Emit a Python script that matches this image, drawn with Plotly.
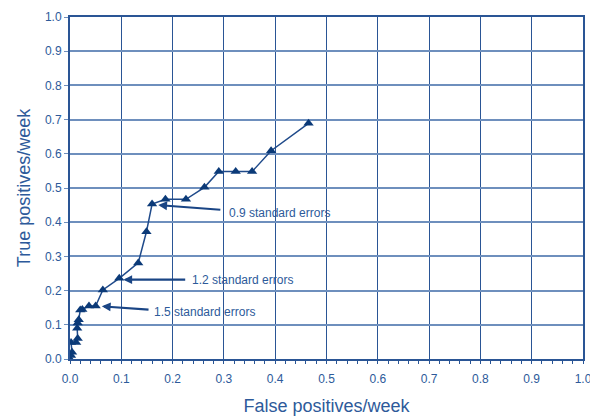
import plotly.graph_objects as go

fp = [0.0, 0.002, 0.004, 0.002, 0.012, 0.015, 0.014, 0.015, 0.017, 0.020, 0.024, 0.037, 0.050,
      0.064, 0.096, 0.133, 0.149, 0.160, 0.186, 0.226, 0.262, 0.290, 0.323, 0.355, 0.392, 0.465]
tp = [0.0, 0.010, 0.020, 0.048, 0.048, 0.060, 0.090, 0.105, 0.115, 0.143, 0.145, 0.155, 0.155,
      0.202, 0.236, 0.281, 0.372, 0.453, 0.467, 0.467, 0.502, 0.548, 0.548, 0.548, 0.609, 0.689]

labels = ["0.9 standard errors", "1.2 standard errors", "1.5 standard errors"]
tip_x = [0.172, 0.104, 0.062]
tip_y = [0.450, 0.232, 0.154]
tail_x = [0.296, 0.2275, 0.156]
tail_y = [0.436, 0.232, 0.144]
text_x = [0.307, 0.233, 0.159]
text_y = [0.427, 0.231, 0.137]

ticks = [round(i * 0.1, 1) for i in range(11)]
ticktext = [f"{t:.1f}" for t in ticks]

navy = "#0B3A78"
grid_v = "#2A5595"
grid_h = "#6E8FBD"
txt = "#2D5A9A"

fig = go.Figure()
fig.add_trace(go.Scatter(
    x=fp, y=tp, mode="lines+markers",
    line=dict(color="#1F4A8A", width=1.5),
    marker=dict(symbol="triangle-up", size=9, color=navy),
    showlegend=False,
))

for i in range(len(labels)):
    fig.add_annotation(x=tip_x[i], y=tip_y[i], ax=tail_x[i], ay=tail_y[i],
                       xref="x", yref="y", axref="x", ayref="y",
                       text="", showarrow=True, arrowhead=2, arrowsize=0.8,
                       arrowwidth=2.2, arrowcolor="#1A4585")
    fig.add_annotation(x=text_x[i], y=text_y[i], xref="x", yref="y",
                       text=labels[i], showarrow=False, xanchor="left", yanchor="middle",
                       font=dict(size=12, color=txt, family="Liberation Sans, Arial, sans-serif"))

fig.update_layout(
    width=590, height=408,
    margin=dict(l=62, r=15, t=9, b=57),
    paper_bgcolor="white", plot_bgcolor="white",
    font=dict(family="Liberation Sans, Arial, sans-serif", color=txt, size=12),
)
fig.update_xaxes(
    range=[0, 1], tickvals=ticks, ticktext=ticktext, automargin=False,
    showgrid=True, gridcolor=grid_v, gridwidth=1.2,
    showline=True, linecolor=grid_v, linewidth=2, mirror=True,
    ticks="", zeroline=False, ticklabelstandoff=8,
    minor=dict(dtick=0.02, tick0=0, ticks="outside", ticklen=3, tickcolor=grid_v, showgrid=False),
    tickfont=dict(size=12, color=txt),
    title=dict(text="False positives/week", font=dict(size=18, color=txt), standoff=23),
)
fig.update_yaxes(
    range=[0, 1], tickvals=ticks, ticktext=ticktext, automargin=False,
    showgrid=True, gridcolor=grid_h, gridwidth=1.5,
    showline=True, linecolor=grid_v, linewidth=2, mirror=True,
    ticks="outside", ticklen=4, tickcolor=grid_h, zeroline=False,
    tickfont=dict(size=12, color=txt),
    title=dict(text="True positives/week", font=dict(size=18, color=txt), standoff=10),
)

fig.write_html("out.html")
